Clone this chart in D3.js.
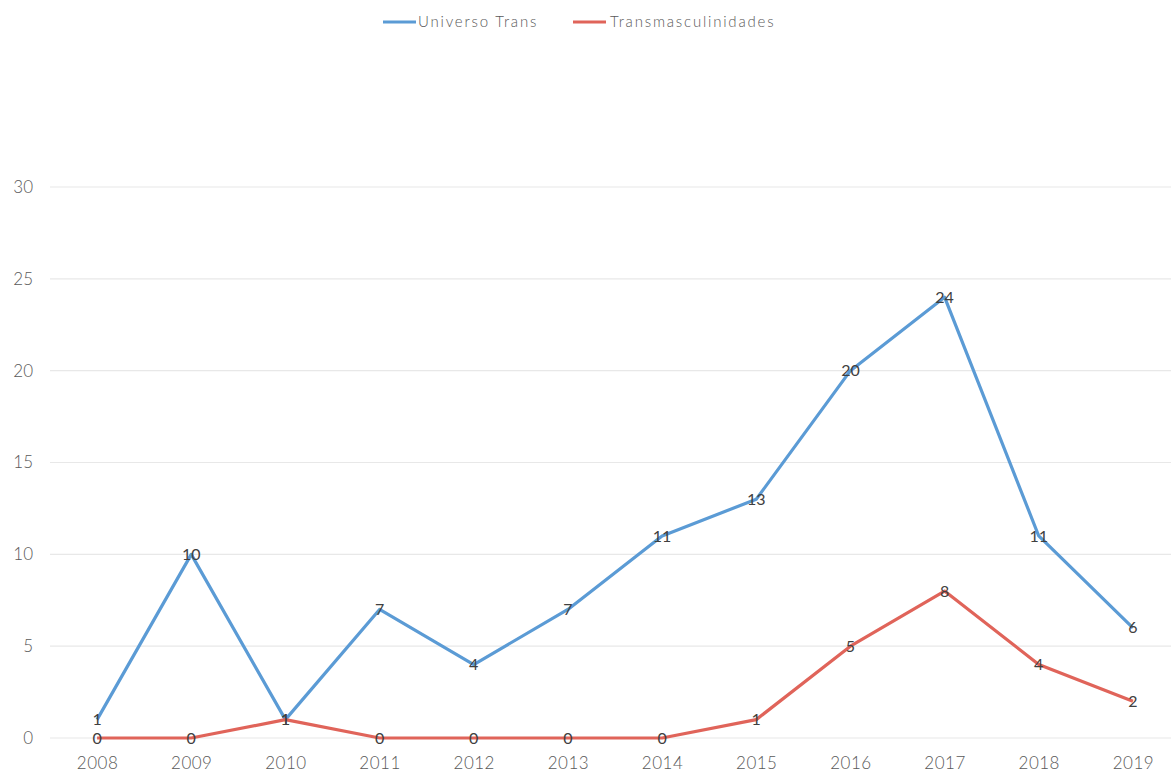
<!DOCTYPE html>
<html><head><meta charset="utf-8">
<script src="https://cdn.jsdelivr.net/npm/d3@7"></script>
<style>body{margin:0;background:#fff}svg{display:block}text{font-family:Lato,"Open Sans",sans-serif}</style>
</head><body>
<svg id="c" width="1171" height="773"></svg>
<script>
const years = ["2008","2009","2010","2011","2012","2013","2014","2015","2016","2017","2018","2019"];
const universoTrans = [1,10,1,7,4,7,11,13,20,24,11,6];
const transmasc = [0,0,1,0,0,0,0,1,5,8,4,2];
const yTicks = [0,5,10,15,20,25,30];
const seriesNames = ["Universo Trans","Transmasculinidades"];
const colors = ["#5B9BD5","#E0645A"];

const svg = d3.select("#c");
const x = d3.scalePoint().domain(years).range([50,1180]).padding(0.5);
const y = d3.scaleLinear().domain([0,30]).range([738,187]);

const g = svg.append("g");
g.selectAll("line.grid").data(yTicks).enter().append("line")
 .attr("x1",50).attr("x2",1171).attr("y1",d=>y(d)).attr("y2",d=>y(d))
 .attr("stroke","#e8e8e8").attr("stroke-width",1.2);

const yAxis = d3.axisLeft(y).tickValues(yTicks).tickSize(0).tickPadding(0);
const ya = svg.append("g").attr("transform","translate(33,0)").call(yAxis);
ya.select(".domain").remove();
ya.selectAll("text").attr("fill","#595959").style("font-size","17px").style("font-family","Lato,sans-serif").style("font-weight","300");

const xAxis = d3.axisBottom(x).tickSize(0).tickPadding(0);
const xa = svg.append("g").attr("transform","translate(0,757)").call(xAxis);
xa.select(".domain").remove();
xa.selectAll("text").attr("fill","#595959").style("font-size","17px").style("letter-spacing","0.5px").style("font-family","Lato,sans-serif").style("font-weight","300");

const data = [universoTrans, transmasc];
const line = d3.line().x((d,i)=>x(years[i])).y(d=>y(d));
data.forEach((s,k)=>{
  svg.append("path").datum(s).attr("d",line).attr("fill","none")
   .attr("stroke",colors[k]).attr("stroke-width",3.2).attr("stroke-linejoin","round");
});
data.forEach((s,k)=>{
  svg.selectAll("text.lbl"+k).data(s).enter().append("text")
   .attr("x",(d,i)=>x(years[i])).attr("y",d=>y(d)).attr("dy","0.35em")
   .attr("text-anchor","middle").attr("fill","#404040").style("font-size","16px")
   .text(d=>d);
});

// legend
const leg = [{x:383,tx:418},{x:573,tx:610}];
seriesNames.forEach((n,k)=>{
  svg.append("line").attr("x1",leg[k].x).attr("x2",leg[k].x+33).attr("y1",22).attr("y2",22)
   .attr("stroke",colors[k]).attr("stroke-width",3);
  svg.append("text").attr("x",leg[k].tx).attr("y",22).attr("dy","0.35em")
   .attr("fill","#595959").style("font-size","15px").style("font-weight","300").style("letter-spacing","1.8px").text(n);
});
</script>
</body></html>
